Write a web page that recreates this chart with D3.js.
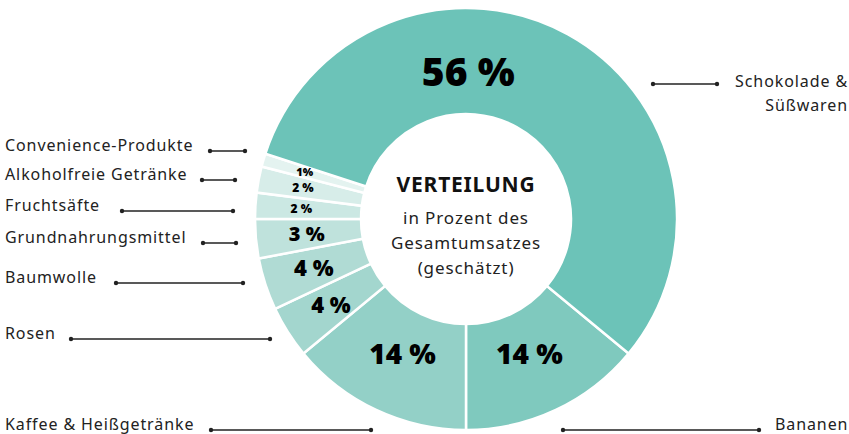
<!DOCTYPE html>
<html>
<head>
<meta charset="utf-8">
<script src="https://cdn.jsdelivr.net/npm/d3@7"></script>
<style>
  body { margin: 0; background: #fff; }
  text { font-family: "Noto Sans", "Open Sans", sans-serif; }
</style>
</head>
<body>
<div id="chart"></div>
<script>
const width = 849;
const height = 434;

// data, clockwise starting at the lower right (Bananen)
const categories = ["Bananen", "Kaffee & Heißgetränke", "Rosen", "Baumwolle", "Grundnahrungsmittel",
  "Fruchtsäfte", "Alkoholfreie Getränke", "Convenience-Produkte", "Schokolade & Süßwaren"];
const values = [14, 14, 4, 4, 3, 2, 2, 1, 56];
const percentLabels = ["14 %", "14 %", "4 %", "4 %", "3 %", "2 %", "2 %", "1%", "56 %"];
const centerLines = ["in Prozent des", "Gesamtumsatzes", "(geschätzt)"];

const colors = ["#7fc9be", "#93d0c7", "#a3d6ce", "#b0dbd4", "#bfe2dc", "#cbe8e3", "#d7ede9", "#e4f3f0", "#6cc3b8"];

// label styling for the percentages inside the ring
const pctSize = [28, 28, 22, 22, 20, 12, 12, 11, 39];
const pctRadius = [149, 149, 160, 160, 160, 165, 166, 168, 147];

// outside labels with leader lines (layout only)
const outerLabels = [
  { lines: ["Bananen"], x: 775, y: 430, anchor: "start", x1: 563, x2: 759, ly: 430 },
  { lines: ["Kaffee & Heißgetränke"], x: 5, y: 430, anchor: "start", x1: 211, x2: 371, ly: 430 },
  { lines: ["Rosen"], x: 5, y: 339, anchor: "start", x1: 71, x2: 270, ly: 339 },
  { lines: ["Baumwolle"], x: 5, y: 283, anchor: "start", x1: 116, x2: 243, ly: 283 },
  { lines: ["Grundnahrungsmittel"], x: 5, y: 243, anchor: "start", x1: 203, x2: 236, ly: 243 },
  { lines: ["Fruchtsäfte"], x: 5, y: 211, anchor: "start", x1: 122, x2: 233, ly: 211 },
  { lines: ["Alkoholfreie Getränke"], x: 5, y: 180, anchor: "start", x1: 202, x2: 235, ly: 180 },
  { lines: ["Convenience-Produkte"], x: 5, y: 151, anchor: "start", x1: 210, x2: 245, ly: 151 },
  { lines: ["Schokolade &", "Süßwaren"], x: 848, y: 87, anchor: "end", x1: 653, x2: 717, ly: 84 }
];

const cx = 466, cy = 219;
const outerR = 211, innerR = 105;

const svg = d3.select("#chart")
  .append("svg")
  .attr("width", width)
  .attr("height", height);

const g = svg.append("g")
  .attr("transform", `translate(${cx},${cy})`);

// Bananen ends exactly at 6 o'clock
const total = d3.sum(values);
const start = Math.PI - (values[0] / total) * 2 * Math.PI;

const pie = d3.pie()
  .sort(null)
  .value(d => d)
  .startAngle(start)
  .endAngle(start + 2 * Math.PI);

const arcs = pie(values);

const arc = d3.arc()
  .innerRadius(innerR)
  .outerRadius(outerR);

g.selectAll("path.slice")
  .data(arcs)
  .enter()
  .append("path")
  .attr("class", "slice")
  .attr("d", arc)
  .attr("fill", (d, i) => colors[i])
  .attr("stroke", "#fff")
  .attr("stroke-width", 2.5);

// percentages
g.selectAll("text.pct")
  .data(arcs)
  .enter()
  .append("text")
  .attr("class", "pct")
  .each(function(d, i) {
    let a = (d.startAngle + d.endAngle) / 2;
    if (i === values.length - 1) a = 2 * Math.PI + 0.015; // big slice label sits at the top
    d3.select(this)
      .attr("x", pctRadius[i] * Math.sin(a))
      .attr("y", -pctRadius[i] * Math.cos(a));
  })
  .attr("dy", "0.36em")
  .attr("text-anchor", "middle")
  .style("font-family", "'Noto Sans', sans-serif")
  .style("font-weight", 900)
  .style("font-size", (d, i) => pctSize[i] + "px")
  .attr("fill", "#000")
  .text((d, i) => percentLabels[i]);

// centre text
g.append("text")
  .attr("x", 0)
  .attr("y", -27)
  .attr("text-anchor", "middle")
  .style("font-weight", 700)
  .style("font-size", "21px")
  .style("letter-spacing", "0.8px")
  .attr("fill", "#111")
  .text("VERTEILUNG");

g.selectAll("text.sub")
  .data(centerLines)
  .enter()
  .append("text")
  .attr("class", "sub")
  .attr("x", 0)
  .attr("y", (d, i) => 5 + i * 25)
  .attr("text-anchor", "middle")
  .style("font-size", "17px")
  .style("letter-spacing", "0.9px")
  .attr("fill", "#222")
  .text(d => d);

// outer labels + leader lines
const lab = svg.selectAll("g.label")
  .data(outerLabels)
  .enter()
  .append("g")
  .attr("class", "label");

lab.append("line")
  .attr("x1", d => d.x1)
  .attr("x2", d => d.x2)
  .attr("y1", d => d.ly)
  .attr("y2", d => d.ly)
  .attr("stroke", "#222")
  .attr("stroke-width", 1.4);

lab.append("circle")
  .attr("cx", d => d.x1)
  .attr("cy", d => d.ly)
  .attr("r", 2.2)
  .attr("fill", "#222");

lab.append("circle")
  .attr("cx", d => d.x2)
  .attr("cy", d => d.ly)
  .attr("r", 2.2)
  .attr("fill", "#222");

lab.each(function(d) {
  const t = d3.select(this).append("text")
    .attr("text-anchor", d.anchor)
    .style("font-size", "16px")
    .style("letter-spacing", "0.9px")
    .attr("fill", "#222");
  d.lines.forEach((line, i) => {
    t.append("tspan")
      .attr("x", d.x)
      .attr("y", d.y + i * 24)
      .text(line);
  });
});
</script>
</body>
</html>
